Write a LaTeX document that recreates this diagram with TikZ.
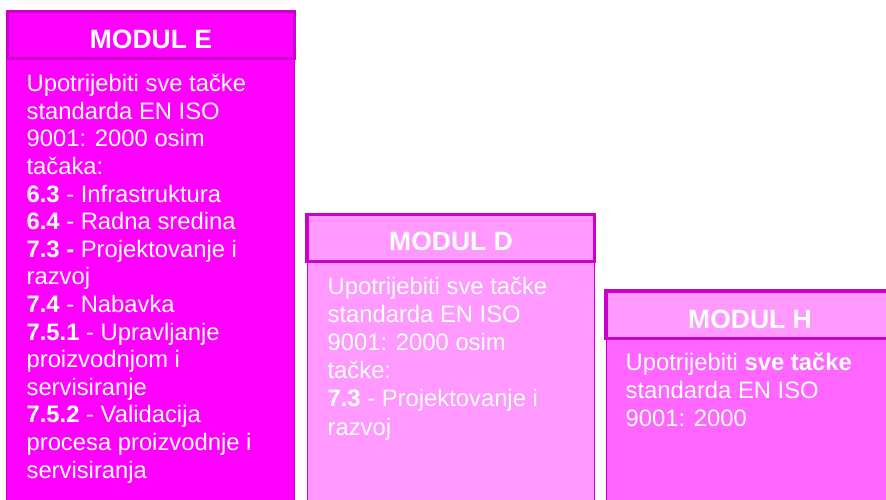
\documentclass[tikz,border=0pt]{standalone}
\usepackage{fontspec}
\setmainfont{Liberation Sans}
\definecolor{bordc}{HTML}{CC00CC}
\definecolor{fillE}{HTML}{FF00FF}
\definecolor{fillD}{HTML}{FF99FF}
\definecolor{fillH}{HTML}{FF66FF}
\begin{document}
\begin{tikzpicture}[x=1pt,y=-1pt,
  headbox/.style={draw=bordc, line width=3.5pt},
  bodybox/.style={draw=bordc, line width=1pt},
  title/.style={font=\fontsize{26.5}{30}\selectfont\bfseries, text=white, anchor=base, inner sep=0pt},
  bodytext/.style={font=\fontsize{23.8}{27.6}\selectfont, text=white, anchor=base west, inner sep=0pt}]
\clip (0,0) rectangle (886,499);
% bodies
\draw[bodybox, fill=fillE] (6.5,58) rectangle (294.5,520);
\draw[bodybox, fill=fillD] (307.2,260) rectangle (594.8,520);
\draw[bodybox, fill=fillH] (606.5,337) rectangle (900,520);
% headers
\draw[headbox, fill=fillE] (7.5,11.5) rectangle (294.7,58.5);
\draw[headbox, fill=fillD] (307,214.7) rectangle (594.7,261.3);
\draw[headbox, fill=fillD] (606,291) rectangle (894,338.7);
% titles
\node[title] (tE) at (151,48.3) {MODUL E};
\node[title] (tD) at (451,250) {MODUL D};
\node[title] (tH) at (750,328) {MODUL H};
% body texts
\foreach \t [count=\i] in {{Upotrijebiti sve tačke},{standarda EN ISO},{9001: 2000 osim},{tačaka:},
  {\textbf{6.3} - Infrastruktura},{\textbf{6.4} - Radna sredina},{\textbf{7.3 -} Projektovanje i},{razvoj},
  {\textbf{7.4} - Nabavka},{\textbf{7.5.1} - Upravljanje},{proizvodnjom i},{servisiranje},
  {\textbf{7.5.2} - Validacija},{procesa proizvodnje i},{servisiranja}}
  \node[bodytext] (e\i) at (26.4,{91.7+(\i-1)*27.6}) {\t};
\foreach \t [count=\i] in {{Upotrijebiti sve tačke},{standarda EN ISO},{9001: 2000 osim},{tačke:},
  {\textbf{7.3} - Projektovanje i},{razvoj}}
  \node[bodytext] (d\i) at (327.4,{294+(\i-1)*28.2}) {\t};
\foreach \t [count=\i] in {{Upotrijebiti \textbf{sve tačke}},{standarda EN ISO},{9001: 2000}}
  \node[bodytext] (h\i) at (625.4,{370.7+(\i-1)*28}) {\t};
\end{tikzpicture}
\end{document}
